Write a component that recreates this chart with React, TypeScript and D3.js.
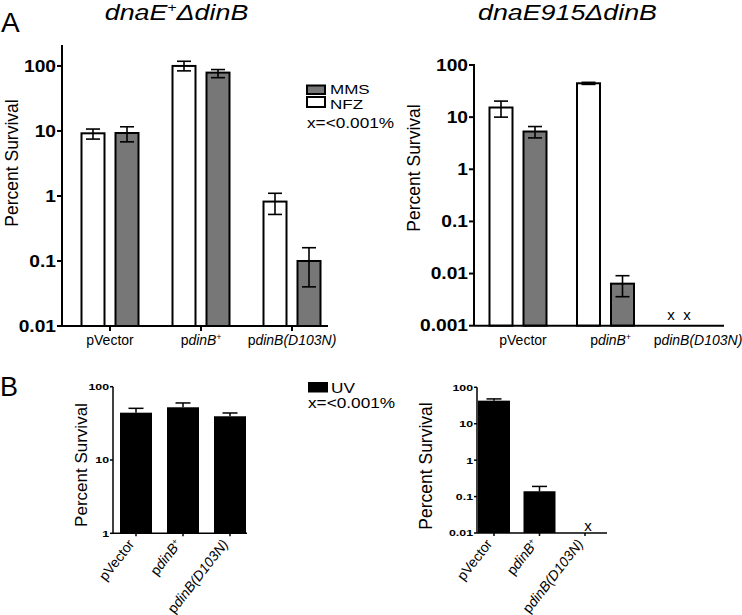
import React from "react";
import * as d3 from "d3";

const categories = ["pVector", "pdinB+", "pdinB(D103N)"];

// Panel A, left: dnaE+ ΔdinB
const aLeftNFZ = [9.2, 100, 0.82];
const aLeftNFZLow = [7.5, 84, 0.52];
const aLeftNFZHigh = [10.7, 118, 1.1];
const aLeftMMS = [9.3, 79, 0.1];
const aLeftMMSLow = [6.8, 66, 0.04];
const aLeftMMSHigh = [11.6, 88, 0.16];

// Panel A, right: dnaE915 ΔdinB
const aRightNFZ = [15.3, 44.6, null];
const aRightNFZLow = [10, 42.5, null];
const aRightNFZHigh = [20.3, 46.5, null];
const aRightMMS = [5.3, 0.0064, null];
const aRightMMSLow = [4.0, 0.0036, null];
const aRightMMSHigh = [6.6, 0.0091, null];

// Panel B (UV)
const bLeftUV = [44.2, 52.4, 39.5];
const bLeftUVHigh = [50.7, 60, 43.8];
const bRightUV = [43, 0.14, null];
const bRightUVHigh = [48, 0.19, null];

const ticksALeft = [0.01, 0.1, 1, 10, 100];
const ticksARight = [0.001, 0.01, 0.1, 1, 10, 100];
const ticksBLeft = [1, 10, 100];
const ticksBRight = [0.01, 0.1, 1, 10, 100];

const FONT = "'Liberation Sans', Arial, sans-serif";
const GRAY = "#777777";

function CatText({ cat }: { cat: string }) {
  if (cat === "pVector") return <>pVector</>;
  if (cat === "pdinB+")
    return (
      <>
        p<tspan fontStyle="italic">dinB</tspan>
        <tspan fontSize="0.6em" dy="-0.55em">+</tspan>
      </>
    );
  return (
    <>
      p<tspan fontStyle="italic">dinB(D103N)</tspan>
    </>
  );
}

function SText({ x, y, sx = 1, rot = 0, children, ...rest }: any) {
  return (
    <text
      transform={`translate(${x},${y}) scale(${sx},1)${rot ? ` rotate(${rot})` : ""}`}
      fontFamily={FONT}
      {...rest}
    >
      {children}
    </text>
  );
}

function ErrBar({ x, y1, y2, cap, sw }: any) {
  return (
    <g stroke="#000" strokeWidth={sw}>
      <line x1={x} x2={x} y1={y1} y2={y2} />
      <line x1={x - cap / 2} x2={x + cap / 2} y1={y1} y2={y1} />
      <line x1={x - cap / 2} x2={x + cap / 2} y1={y2} y2={y2} />
    </g>
  );
}

function YAxis({ y, x, ticks, top, fs, sx, tick, gap, sw }: any) {
  return (
    <g>
      <line x1={x} x2={x} y1={top} y2={y.range()[0]} stroke="#000" strokeWidth={sw} />
      {ticks.map((t: number) => (
        <g key={t}>
          <line x1={x - tick} x2={x} y1={y(t)} y2={y(t)} stroke="#000" strokeWidth={sw} />
          <SText x={x - gap} y={y(t)} sx={sx} textAnchor="end" dy="0.36em" fontSize={fs} fontWeight="bold">
            {String(t)}
          </SText>
        </g>
      ))}
    </g>
  );
}

function TopPanel({ xr, axisX0, axisX1, y, ticks, yTop, nfz, nfzLo, nfzHi, mms, mmsLo, mmsHi, xTicks, labelOff, xMarks }: any) {
  const x = d3.scalePoint<string>().domain(categories).range(xr);
  const base = y.range()[0];
  const bw = 23;
  const off = 17;
  return (
    <g>
      {categories.map((c, i) => {
        const cx = x(c)!;
        const parts: any[] = [];
        const series = [
          { v: nfz[i], lo: nfzLo[i], hi: nfzHi[i], fill: "#fff", dx: -off },
          { v: mms[i], lo: mmsLo[i], hi: mmsHi[i], fill: GRAY, dx: off },
        ];
        series.forEach((s, j) => {
          if (s.v == null) return;
          const top = y(s.v);
          parts.push(
            <rect key={"r" + j} x={cx + s.dx - bw / 2} y={top} width={bw} height={base - top} fill={s.fill} stroke="#000" strokeWidth={2} />
          );
          parts.push(<ErrBar key={"e" + j} x={cx + s.dx} y1={y(s.hi)} y2={y(s.lo)} cap={14} sw={1.6} />);
        });
        return <g key={c}>{parts}</g>;
      })}
      <YAxis y={y} x={axisX0} ticks={ticks} top={yTop} fs={16} sx={1.2} tick={5} gap={6} sw={2} />
      <line x1={axisX0} x2={axisX1} y1={base} y2={base} stroke="#000" strokeWidth={2} />
      {categories.map((c) => (
        <g key={c}>
          {xTicks && <line x1={x(c)!} x2={x(c)!} y1={base} y2={base + 5} stroke="#000" strokeWidth={2} />}
          <SText x={x(c)! + labelOff} y={base + 19} textAnchor="middle" fontSize={14}>
            <CatText cat={c} />
          </SText>
        </g>
      ))}
      {xMarks.map((m: any, k: number) => (
        <SText key={k} x={x(m.cat)! + m.dx} y={base - 6} textAnchor="middle" fontSize={15}>
          x
        </SText>
      ))}
    </g>
  );
}

function BottomPanel({ xr, axisX0, axisX1, y, ticks, vals, hi, xMarks }: any) {
  const x = d3.scalePoint<string>().domain(categories).range(xr);
  const base = y.range()[0];
  const top = y.range()[1];
  const bw = 32;
  return (
    <g>
      {categories.map((c, i) => {
        if (vals[i] == null) return null;
        const cx = x(c)!;
        const t = y(vals[i]);
        return (
          <g key={c}>
            <line x1={cx} x2={cx} y1={y(hi[i])} y2={t} stroke="#000" strokeWidth={1.5} />
            <line x1={cx - 7.5} x2={cx + 7.5} y1={y(hi[i])} y2={y(hi[i])} stroke="#000" strokeWidth={1.5} />
            <rect x={cx - bw / 2} y={t} width={bw} height={base - t} fill="#000" />
          </g>
        );
      })}
      <YAxis y={y} x={axisX0} ticks={ticks} top={top} fs={9.5} sx={1.3} tick={3} gap={4} sw={1.5} />
      <line x1={axisX0} x2={axisX1} y1={base} y2={base} stroke="#000" strokeWidth={1.5} />
      {categories.map((c) => (
        <g key={c}>
          <line x1={x(c)!} x2={x(c)!} y1={base} y2={base + 3} stroke="#000" strokeWidth={1.5} />
          <SText x={x(c)! - 1} y={base + 11} rot={-52} textAnchor="end" fontSize={14}>
            <CatText cat={c} />
          </SText>
        </g>
      ))}
      {xMarks.map((m: any, k: number) => (
        <SText key={k} x={x(m.cat)! + m.dx} y={base - 2} textAnchor="middle" fontSize={15}>
          x
        </SText>
      ))}
    </g>
  );
}

export default function App() {
  const yAL = d3.scaleLog().domain([0.01, 210]).range([326, 45]);
  const yAR = d3.scaleLog().domain([0.001, 100]).range([325.7, 65]);
  const yBL = d3.scaleLog().domain([1, 100]).range([533.3, 386.7]);
  const yBR = d3.scaleLog().domain([0.01, 100]).range([533, 387.3]);

  return (
    <svg width={742} height={615} style={{ position: "absolute", left: 0, top: 0, background: "#fff" }}>
      <rect width={742} height={615} fill="#fff" />
      {/* Panel letters */}
      <SText x={1} y={31.5} fontSize={28}>A</SText>
      <SText x={0} y={396} fontSize={27}>B</SText>

      {/* Titles */}
      <SText x={176.5} y={20} sx={1.22} textAnchor="middle" fontSize={22} fontStyle="italic">
        dnaE<tspan fontSize={13} dy={-8}>+</tspan>
        <tspan dy={8}>ΔdinB</tspan>
      </SText>
      <SText x={567.5} y={20} sx={1.22} textAnchor="middle" fontSize={22} fontStyle="italic">
        dnaE915ΔdinB
      </SText>

      {/* Y axis titles */}
      <SText x={18} y={163} rot={-90} textAnchor="middle" fontSize={17.5}>Percent Survival</SText>
      <SText x={420} y={168} rot={-90} textAnchor="middle" fontSize={17.5}>Percent Survival</SText>
      <SText x={87} y={465} rot={-90} textAnchor="middle" fontSize={17}>Percent Survival</SText>
      <SText x={432} y={466} rot={-90} textAnchor="middle" fontSize={17.5}>Percent Survival</SText>

      <TopPanel
        xr={[110, 292]}
        axisX0={62}
        axisX1={328}
        y={yAL}
        ticks={ticksALeft}
        yTop={45}
        nfz={aLeftNFZ}
        nfzLo={aLeftNFZLow}
        nfzHi={aLeftNFZHigh}
        mms={aLeftMMS}
        mmsLo={aLeftMMSLow}
        mmsHi={aLeftMMSHigh}
        xTicks={true}
        labelOff={0}
        xMarks={[]}
      />
      <TopPanel
        xr={[518, 693]}
        axisX0={474}
        axisX1={724}
        y={yAR}
        ticks={ticksARight}
        yTop={64}
        nfz={aRightNFZ}
        nfzLo={aRightNFZLow}
        nfzHi={aRightNFZHigh}
        mms={aRightMMS}
        mmsLo={aRightMMSLow}
        mmsHi={aRightMMSHigh}
        xTicks={false}
        labelOff={5}
        xMarks={[{ cat: "pdinB(D103N)", dx: -22 }, { cat: "pdinB(D103N)", dx: -6 }]}
      />

      {/* Legend A */}
      <rect x={307} y={85.5} width={18} height={8.5} fill={GRAY} stroke="#000" strokeWidth={2} />
      <rect x={307} y={97} width={18} height={10} fill="#fff" stroke="#000" strokeWidth={2} />
      <SText x={330} y={94} sx={1.36} fontSize={12.5}>MMS</SText>
      <SText x={330} y={108.5} sx={1.36} fontSize={12.5}>NFZ</SText>
      <SText x={307} y={128} sx={1.23} fontSize={14}>x=&lt;0.001%</SText>

      <BottomPanel xr={[136, 230]} axisX0={113} axisX1={247} y={yBL} ticks={ticksBLeft} vals={bLeftUV} hi={bLeftUVHigh} xMarks={[]} />
      <BottomPanel
        xr={[494, 585]}
        axisX0={477}
        axisX1={607}
        y={yBR}
        ticks={ticksBRight}
        vals={bRightUV}
        hi={bRightUVHigh}
        xMarks={[{ cat: "pdinB(D103N)", dx: 3 }]}
      />

      {/* Legend B */}
      <rect x={308} y={382} width={20} height={10.5} fill="#000" />
      <SText x={331} y={392.5} sx={1.23} fontSize={14}>UV</SText>
      <SText x={308} y={408} sx={1.23} fontSize={14}>x=&lt;0.001%</SText>
    </svg>
  );
}
